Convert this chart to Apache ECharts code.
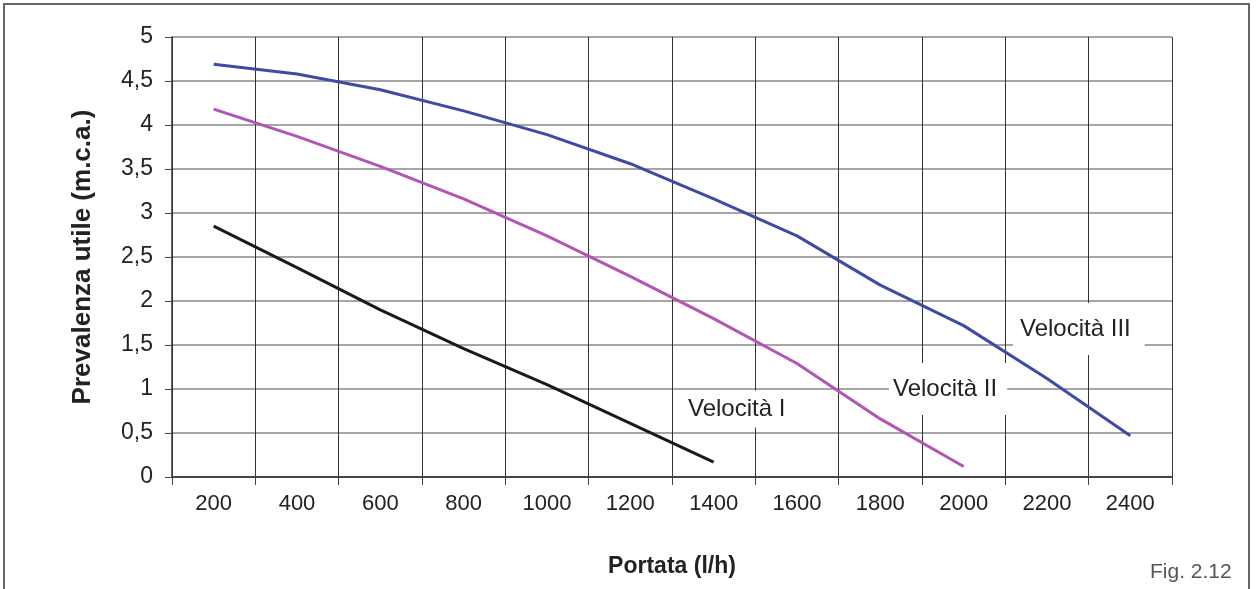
<!DOCTYPE html>
<html>
<head>
<meta charset="utf-8">
<script src="https://cdn.jsdelivr.net/npm/echarts@6/dist/echarts.min.js"></script>
<style>
html,body{margin:0;padding:0;background:#fff;}
#c{width:1257px;height:589px;}
</style>
</head>
<body>
<div id="c"></div>
<script>
const categories = ['200','400','600','800','1000','1200','1400','1600','1800','2000','2200','2400'];
const velocita1 = [2.85, 2.38, 1.90, 1.46, 1.05, 0.61, 0.17];
const velocita2 = [4.18, 3.87, 3.53, 3.16, 2.74, 2.28, 1.80, 1.29, 0.66, 0.12];
const velocita3 = [4.69, 4.58, 4.40, 4.16, 3.89, 3.56, 3.16, 2.74, 2.18, 1.72, 1.12, 0.47];
const seriesNames = ['Velocità I', 'Velocità II', 'Velocità III'];

const FONT = '"Liberation Sans", Arial, Helvetica, sans-serif';
const chart = echarts.init(document.getElementById('c'));

function lbl(text, x, y, pad) {
  return {
    type: 'text', x: x, y: y, z: 100,
    style: {
      text: text, font: '24px ' + FONT, fill: '#222',
      verticalAlign: 'middle', align: 'left',
      backgroundColor: '#fff', padding: pad
    }
  };
}

chart.setOption({
  animation: false,
  backgroundColor: '#fff',
  grid: { left: 172, right: 85, top: 37, bottom: 112, containLabel: false },
  xAxis: {
    type: 'category',
    data: categories,
    boundaryGap: true,
    name: 'Portata (l/h)',
    nameLocation: 'middle',
    nameGap: 78,
    nameTextStyle: { fontFamily: FONT, fontSize: 23, fontWeight: 'bold', color: '#222' },
    axisLine: { show: true, lineStyle: { color: '#444', width: 2 } },
    axisTick: { show: true, length: 8, lineStyle: { color: '#444', width: 1 } },
    axisLabel: { fontFamily: FONT, fontSize: 22, color: '#222', margin: 16, interval: 0 },
    splitLine: { show: true, interval: 0, lineStyle: { color: '#333', width: 1 } }
  },
  yAxis: {
    type: 'value',
    min: 0, max: 5, interval: 0.5,
    name: 'Prevalenza utile (m.c.a.)',
    nameLocation: 'middle',
    nameGap: 76,
    nameTextStyle: { fontFamily: FONT, fontSize: 26, fontWeight: 'bold', color: '#222' },
    axisLine: { show: true, lineStyle: { color: '#333', width: 1.5 } },
    axisTick: { show: true, length: 7, lineStyle: { color: '#444', width: 1 } },
    axisLabel: {
      fontFamily: FONT, fontSize: 23, color: '#222', margin: 19,
      formatter: v => String(v).replace('.', ',')
    },
    splitLine: { show: true, lineStyle: { color: '#888', width: 1.5 } }
  },
  series: [
    { name: seriesNames[0], type: 'line', data: velocita1, symbol: 'none',
      lineStyle: { color: '#1a1a1a', width: 3 }, z: 3 },
    { name: seriesNames[1], type: 'line', data: velocita2, symbol: 'none',
      lineStyle: { color: '#B255B4', width: 3 }, z: 3 },
    { name: seriesNames[2], type: 'line', data: velocita3, symbol: 'none',
      lineStyle: { color: '#3D4BA5', width: 3 }, z: 3 }
  ],
  graphic: [
    { type: 'rect', z: 50, shape: { x: 4, y: 4, width: 1245, height: 600 },
      style: { fill: 'none', stroke: '#666', lineWidth: 2 } },
    lbl(seriesNames[0], 683, 409, [3, 8, 10, 5]),
    lbl(seriesNames[1], 889, 389, [14, 10, 14, 4]),
    lbl(seriesNames[2], 1013, 329, [14, 14, 14, 7]),
    { type: 'text', x: 1150, y: 572, z: 100,
      style: { text: 'Fig. 2.12', font: '21px ' + FONT, fill: '#555', verticalAlign: 'middle' } }
  ]
});
</script>
</body>
</html>
